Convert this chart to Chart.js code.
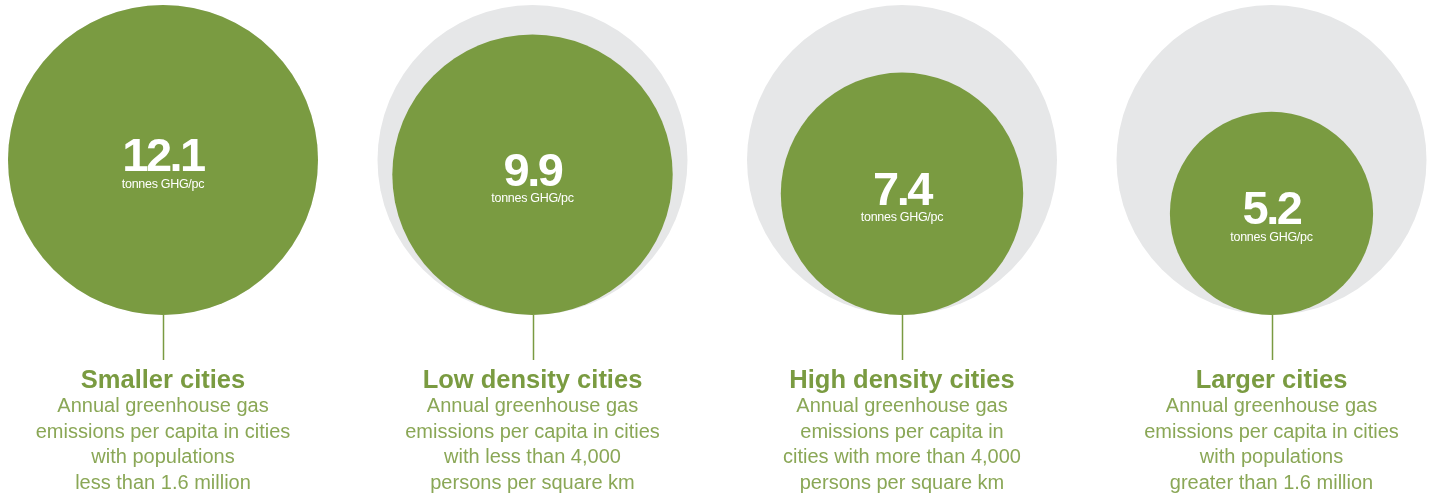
<!DOCTYPE html>
<html>
<head>
<meta charset="utf-8">
<script src="https://cdn.jsdelivr.net/npm/chart.js@4.4.0/dist/chart.umd.min.js"></script>
<style>
  html, body { margin: 0; padding: 0; background: #fff; }
  #wrap { width: 1435px; height: 497px; position: relative; }
</style>
</head>
<body>
<div id="wrap"><canvas id="cities"></canvas></div>
<script>
const categories = ['Smaller cities', 'Low density cities', 'High density cities', 'Larger cities'];
const emissions = [12.1, 9.9, 7.4, 5.2];
const unitLabel = 'tonnes GHG/pc';
const descriptions = [
  ['Annual greenhouse gas', 'emissions per capita in cities', 'with populations', 'less than 1.6 million'],
  ['Annual greenhouse gas', 'emissions per capita in cities', 'with less than 4,000', 'persons per square km'],
  ['Annual greenhouse gas', 'emissions per capita in', 'cities with more than 4,000', 'persons per square km'],
  ['Annual greenhouse gas', 'emissions per capita in cities', 'with populations', 'greater than 1.6 million']
];

const GREEN = 'rgb(122,155,65)';
const BODY_GREEN = 'rgb(138,167,86)';
const GREY = 'rgb(230,231,232)';
const MAX_R = 155;
const maxEmission = Math.max(...emissions);

// bubble area is proportional to the value
const areaRadius = (ctx) => MAX_R * Math.sqrt(ctx.raw.v / maxEmission);

// circles all sit on the y=0 baseline instead of being centred on it
const sitOnBaseline = {
  id: 'sitOnBaseline',
  afterDatasetsUpdate(chart) {
    chart.data.datasets.forEach((ds, i) => {
      chart.getDatasetMeta(i).data.forEach(el => {
        el.y -= el.options.radius;
      });
    });
  }
};

const cityLabels = {
  id: 'cityLabels',
  afterDraw(chart) {
    const ctx = chart.ctx;
    const base = chart.scales.y.getPixelForValue(0);
    ctx.save();
    ctx.textAlign = 'center';
    chart.getDatasetMeta(1).data.forEach((el, i) => {
      // value inside circle
      ctx.fillStyle = '#fff';
      ctx.textBaseline = 'alphabetic';
      ctx.font = 'bold 47px "Liberation Sans", Arial, sans-serif';
      ctx.letterSpacing = '-2.5px';
      ctx.fillText(String(emissions[i]), el.x, el.y + 11);
      ctx.letterSpacing = '-0.3px';
      ctx.font = '12.5px "Liberation Sans", Arial, sans-serif';
      ctx.fillText(unitLabel, el.x, el.y + 27.5);
      ctx.letterSpacing = '0px';

      // stem
      ctx.strokeStyle = GREEN;
      ctx.lineWidth = 1.5;
      ctx.beginPath();
      ctx.moveTo(Math.round(el.x) + 0.5, base);
      ctx.lineTo(Math.round(el.x) + 0.5, base + 45);
      ctx.stroke();

      // title + description
      ctx.fillStyle = GREEN;
      ctx.font = 'bold 25.5px "Liberation Sans", Arial, sans-serif';
      ctx.fillText(categories[i], el.x, base + 72.5);
      ctx.fillStyle = BODY_GREEN;
      ctx.font = '20px "Liberation Sans", Arial, sans-serif';
      descriptions[i].forEach((line, k) => {
        ctx.fillText(line, el.x, base + 97 + k * 25.5);
      });
    });
    ctx.restore();
  }
};

new Chart(document.getElementById('cities'), {
  type: 'bubble',
  data: {
    labels: categories,
    datasets: [
      {
        label: 'Reference (smaller cities)',
        data: categories.map(c => ({ x: c, y: 0, v: maxEmission })),
        backgroundColor: GREY,
        borderWidth: 0,
        radius: areaRadius,
        clip: false,
        order: 2
      },
      {
        label: 'Emissions per capita',
        data: categories.map((c, i) => ({ x: c, y: 0, v: emissions[i] })),
        backgroundColor: GREEN,
        borderWidth: 0,
        radius: areaRadius,
        clip: false,
        order: 1
      }
    ]
  },
  options: {
    responsive: true,
    maintainAspectRatio: false,
    animation: false,
    events: [],
    layout: { padding: { left: 163, right: 163.5, top: 0, bottom: 182 } },
    plugins: {
      legend: { display: false },
      tooltip: { enabled: false }
    },
    scales: {
      x: { type: 'category', offset: false, display: false },
      y: { type: 'linear', min: 0, max: 1, display: false }
    }
  },
  plugins: [sitOnBaseline, cityLabels]
});
</script>
</body>
</html>
